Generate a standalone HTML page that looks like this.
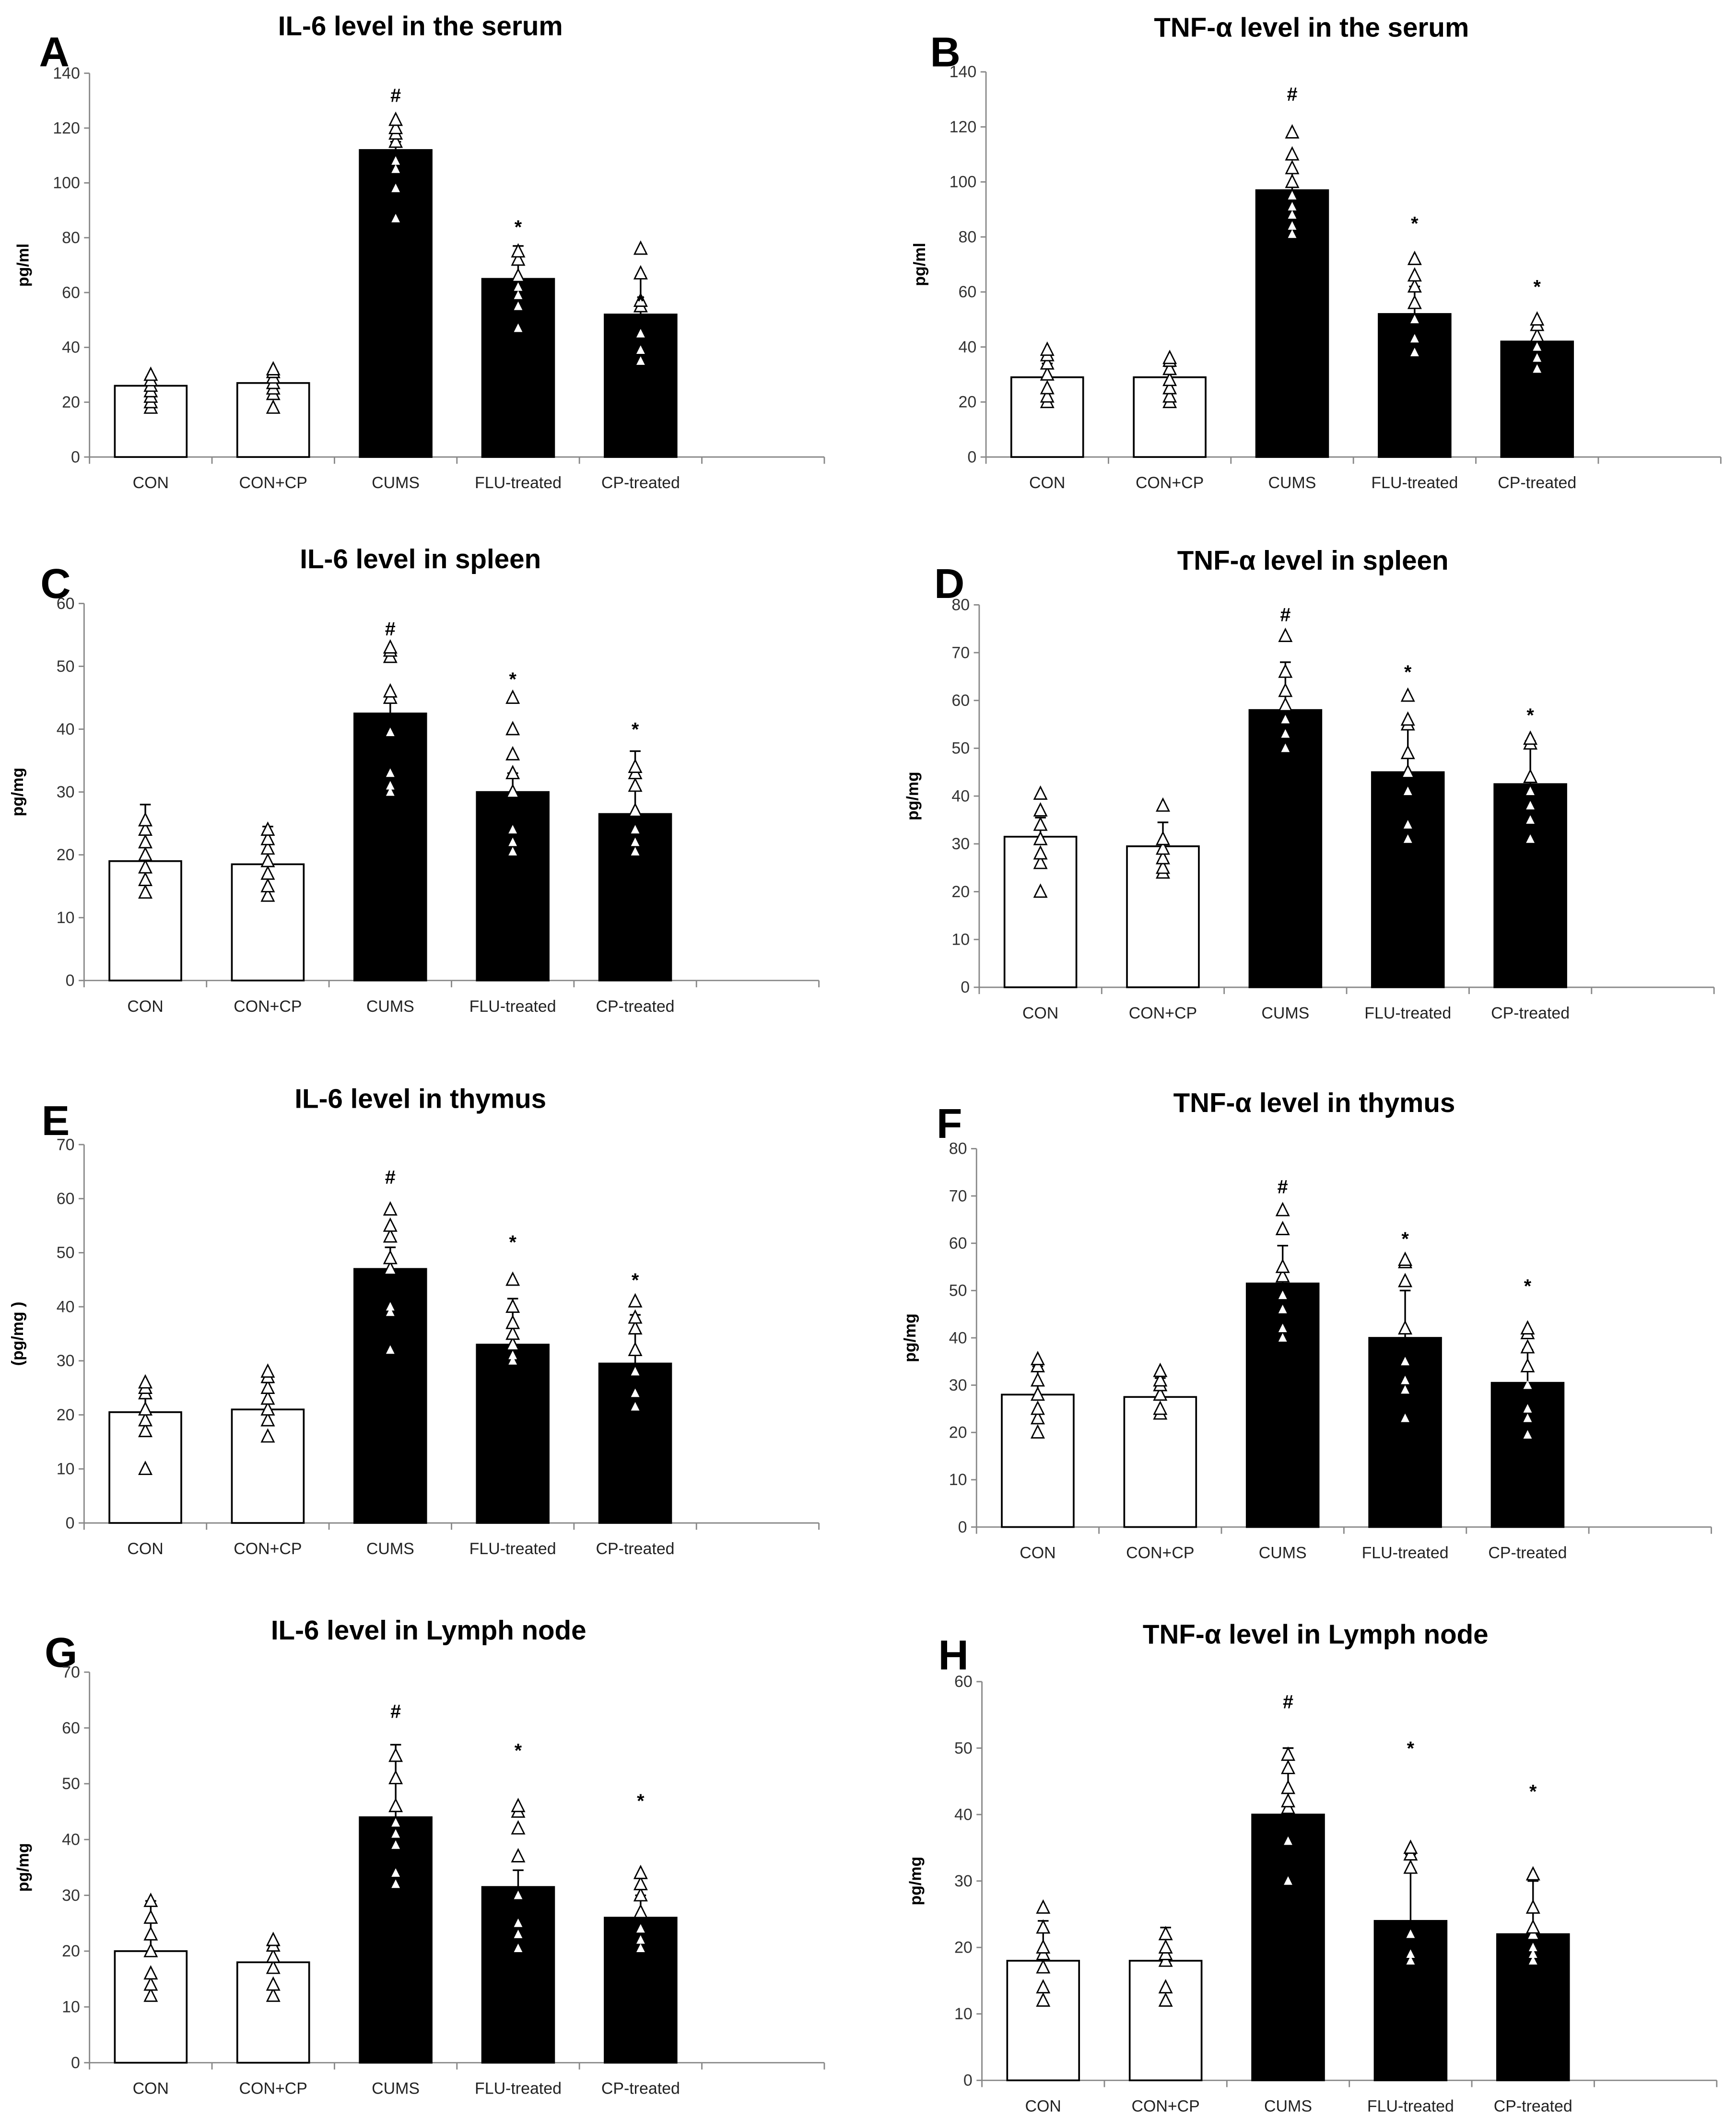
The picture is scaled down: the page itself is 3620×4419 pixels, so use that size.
<!DOCTYPE html>
<html><head><meta charset="utf-8">
<style>html,body{margin:0;padding:0;background:#fff}svg{display:block}</style>
</head><body>
<svg id="fig" width="3620" height="4419" viewBox="0 0 1280 1562.5" preserveAspectRatio="none" xmlns="http://www.w3.org/2000/svg" style="font-family:'Liberation Sans',sans-serif">
<rect width="1280" height="1562.5" fill="#fff"/>
</svg>
<script>
const categories = ["CON","CON+CP","CUMS","FLU-treated","CP-treated"];
const meansA=[26,27,112,65,52], errA=[3,4,3,12,14];
const ptsA=[[18,20,22,24,26,28,30],[18,23,25,27,29,31,32],[87,98,105,108,115,118,120,123],[47,55,59,62,66,72,75],[35,39,45,55,57,67,76]];
const sigA=[132,84,57];
const meansB=[29,29,97,52,42], errB=[5,4,7,10,5];
const ptsB=[[20,22,25,30,34,37,39],[20,22,25,28,32,35,36],[81,84,88,91,95,100,105,110,118],[38,43,50,56,62,66,72],[32,36,40,44,48,50]];
const sigB=[132,85,62];
const meansC=[19,18.5,42.5,30,26.5], errC=[9,6,3,3,10];
const ptsC=[[14,16,18,20,22,24,25.5],[13.5,15,17,19,21,22.5,24],[30,31,33,39.5,45,46,51.5,52.5,53],[20.5,22,24,30,33,36,40,45],[20.5,22,24,27,31,33,34]];
const sigC=[56,48,40];
const meansD=[31.5,29.5,58,45,42.5], errD=[4,5,10,10,9];
const ptsD=[[20,26,28,31,34,37,40.5],[24,25,27,29,31,38],[50,53,56,59,62,66,73.5],[31,34,41,45,49,55,56,61],[31,35,38,41,44,51,52]];
const sigD=[78,66,57];
const meansE=[20.5,21,47,33,29.5], errE=[4,5,4,8.5,9];
const ptsE=[[10,17,19,21,24,25,26],[16,19,21,23,25,27,28],[32,39,40,47,49,53,55,58],[30,31,33,35,37,40,45],[21.5,24,28,32,36,38,41]];
const sigE=[64,52,45];
const meansF=[28,27.5,51.5,40,30.5], errF=[6,4,8,10,7];
const ptsF=[[20,23,25,28,31,34,35.5],[24,25,28,30,31,33],[40,42,46,49,53,55,63,67],[23,29,31,35,42,52,56,56.5],[19.5,23,25,30,34,38,41,42]];
const sigF=[72,61,51];
const meansG=[20,18,44,31.5,26], errG=[9,3,13,3,4];
const ptsG=[[12,14,16,20,23,26,29],[12,14,17,19,21,22],[32,34,39,41,43,46,51,55],[20.5,23,25,30,37,42,45,46],[20.5,22,24,27,30,32,34]];
const sigG=[63,56,47];
const meansH=[18,18,40,24,22], errH=[6,5,10,10,8];
const ptsH=[[12,14,17,19,20,23,26],[12,14,18,19,20,22],[30,36,41,42,44,47,49],[18,19,22,32,34,35],[18,19,20,22,23,26,31]];
const sigH=[57,50,43.5];

const panels=[
 {id:"a",L:"A",t:"IL-6 level in the serum",ax:66,top:54,zero:337,max:140,step:20,tx:310,ty:19,lx:40,ly:38,yl:"pg/ml",m:meansA,e:errA,p:ptsA,s:sigA},
 {id:"b",L:"B",t:"TNF-α level in the serum",ax:727,top:53,zero:337,max:140,step:20,tx:967,ty:20,lx:697,ly:38,yl:"pg/ml",m:meansB,e:errB,p:ptsB,s:sigB},
 {id:"c",L:"C",t:"IL-6 level in spleen",ax:62,top:445,zero:723,max:60,step:10,tx:310,ty:412,lx:41,ly:430,yl:"pg/mg",m:meansC,e:errC,p:ptsC,s:sigC},
 {id:"d",L:"D",t:"TNF-α level in spleen",ax:722,top:446,zero:728,max:80,step:10,tx:968,ty:413,lx:700,ly:430,yl:"pg/mg",m:meansD,e:errD,p:ptsD,s:sigD},
 {id:"e",L:"E",t:"IL-6 level in thymus",ax:62,top:844,zero:1123,max:70,step:10,tx:310,ty:810,lx:41,ly:826,yl:"(pg/mg )",m:meansE,e:errE,p:ptsE,s:sigE},
 {id:"f",L:"F",t:"TNF-α level in thymus",ax:720,top:847,zero:1126,max:80,step:10,tx:969,ty:813,lx:700,ly:828,yl:"pg/mg",m:meansF,e:errF,p:ptsF,s:sigF},
 {id:"g",L:"G",t:"IL-6 level in Lymph node",ax:66,top:1233,zero:1521,max:70,step:10,tx:316,ty:1202,lx:45,ly:1218,yl:"pg/mg",m:meansG,e:errG,p:ptsG,s:sigG},
 {id:"h",L:"H",t:"TNF-α level in Lymph node",ax:724,top:1240,zero:1534,max:60,step:10,tx:970,ty:1205,lx:703,ly:1220,yl:"pg/mg",m:meansH,e:errH,p:ptsH,s:sigH}
];
const NS="http://www.w3.org/2000/svg", svg=document.getElementById('fig');
function mk(tag,attrs,parent,text){const el=document.createElementNS(NS,tag);for(const k in attrs)el.setAttribute(k,attrs[k]);if(text!==undefined)el.textContent=text;parent.appendChild(el);return el;}
panels.forEach(P=>{
 const g=mk('g',{},svg);
 
 
 const y=v=>P.zero-(v/P.max)*(P.zero-P.top);
 const slot=90.3, x=i=>P.ax+(i+0.5)*slot, bw=53;
 const t=mk('text',{x:P.tx,y:P.ty+7,'text-anchor':'middle','font-size':20,'font-weight':'bold'},g,P.t);
 
 
 const l=mk('text',{x:P.lx,y:P.ly+11,'text-anchor':'middle','font-size':31,'font-weight':'bold'},g,P.L);
 
 
 const yt=mk('text',{x:0,y:0,'text-anchor':'middle','font-size':12,'font-weight':'bold',transform:`translate(${P.ax-45},${(P.top+P.zero)/2}) rotate(-90)`},g,P.yl);
 
 
 mk('line',{x1:P.ax,y1:P.top,x2:P.ax,y2:P.zero,stroke:'#888','stroke-width':1},g);
 mk('line',{x1:P.ax,y1:P.zero,x2:P.ax+6*slot,y2:P.zero,stroke:'#888','stroke-width':1},g);
 for(let v=0;v<=P.max;v+=P.step){
  mk('line',{x1:P.ax-4,y1:y(v),x2:P.ax,y2:y(v),stroke:'#888'},g);
  const tl=mk('text',{x:P.ax-7,y:y(v)+4,'text-anchor':'end','font-size':12,fill:'#333'},g,String(v));
  
  
 }
 for(let i=0;i<=6;i++)mk('line',{x1:P.ax+i*slot,y1:P.zero,x2:P.ax+i*slot,y2:P.zero+5,stroke:'#888'},g);
 categories.forEach((c,i)=>{
  const cl=mk('text',{x:x(i),y:P.zero+23,'text-anchor':'middle','font-size':12,fill:'#222'},g,c);
  
  
  const top=y(P.e[i]+P.m[i]);
  mk('line',{x1:x(i),y1:y(P.m[i]),x2:x(i),y2:top,stroke:'#000','stroke-width':1.2},g);
  mk('line',{x1:x(i)-4,y1:top,x2:x(i)+4,y2:top,stroke:'#000','stroke-width':1.2},g);
  const b=mk('rect',{x:x(i)-bw/2,y:y(P.m[i]),width:bw,height:P.zero-y(P.m[i]),fill:i<2?'#fff':'#000',stroke:'#000','stroke-width':1.3},g);
  
  
  P.p[i].forEach(v=>{
   const py=y(v), inside=i>=2&&v<P.m[i], s=inside?3.5:5;
   const tri=mk('polygon',{points:`${x(i)},${py-s} ${x(i)-s*0.9},${py+s*0.8} ${x(i)+s*0.9},${py+s*0.8}`,fill:'#fff',stroke:inside?'none':'#000','stroke-width':1},g);
   
   
  });
 });
 const marks=[['#',2],['*',3],['*',4]];
 marks.forEach((mm,k)=>{
  const st=mk('text',{x:x(mm[1]),y:y(P.s[k])+5,'text-anchor':'middle','font-size':mm[0]=='#'?14:14,'font-weight':'bold',fill:'#000'},g,mm[0]);
  
  
 });
});
</script>
</body></html>
